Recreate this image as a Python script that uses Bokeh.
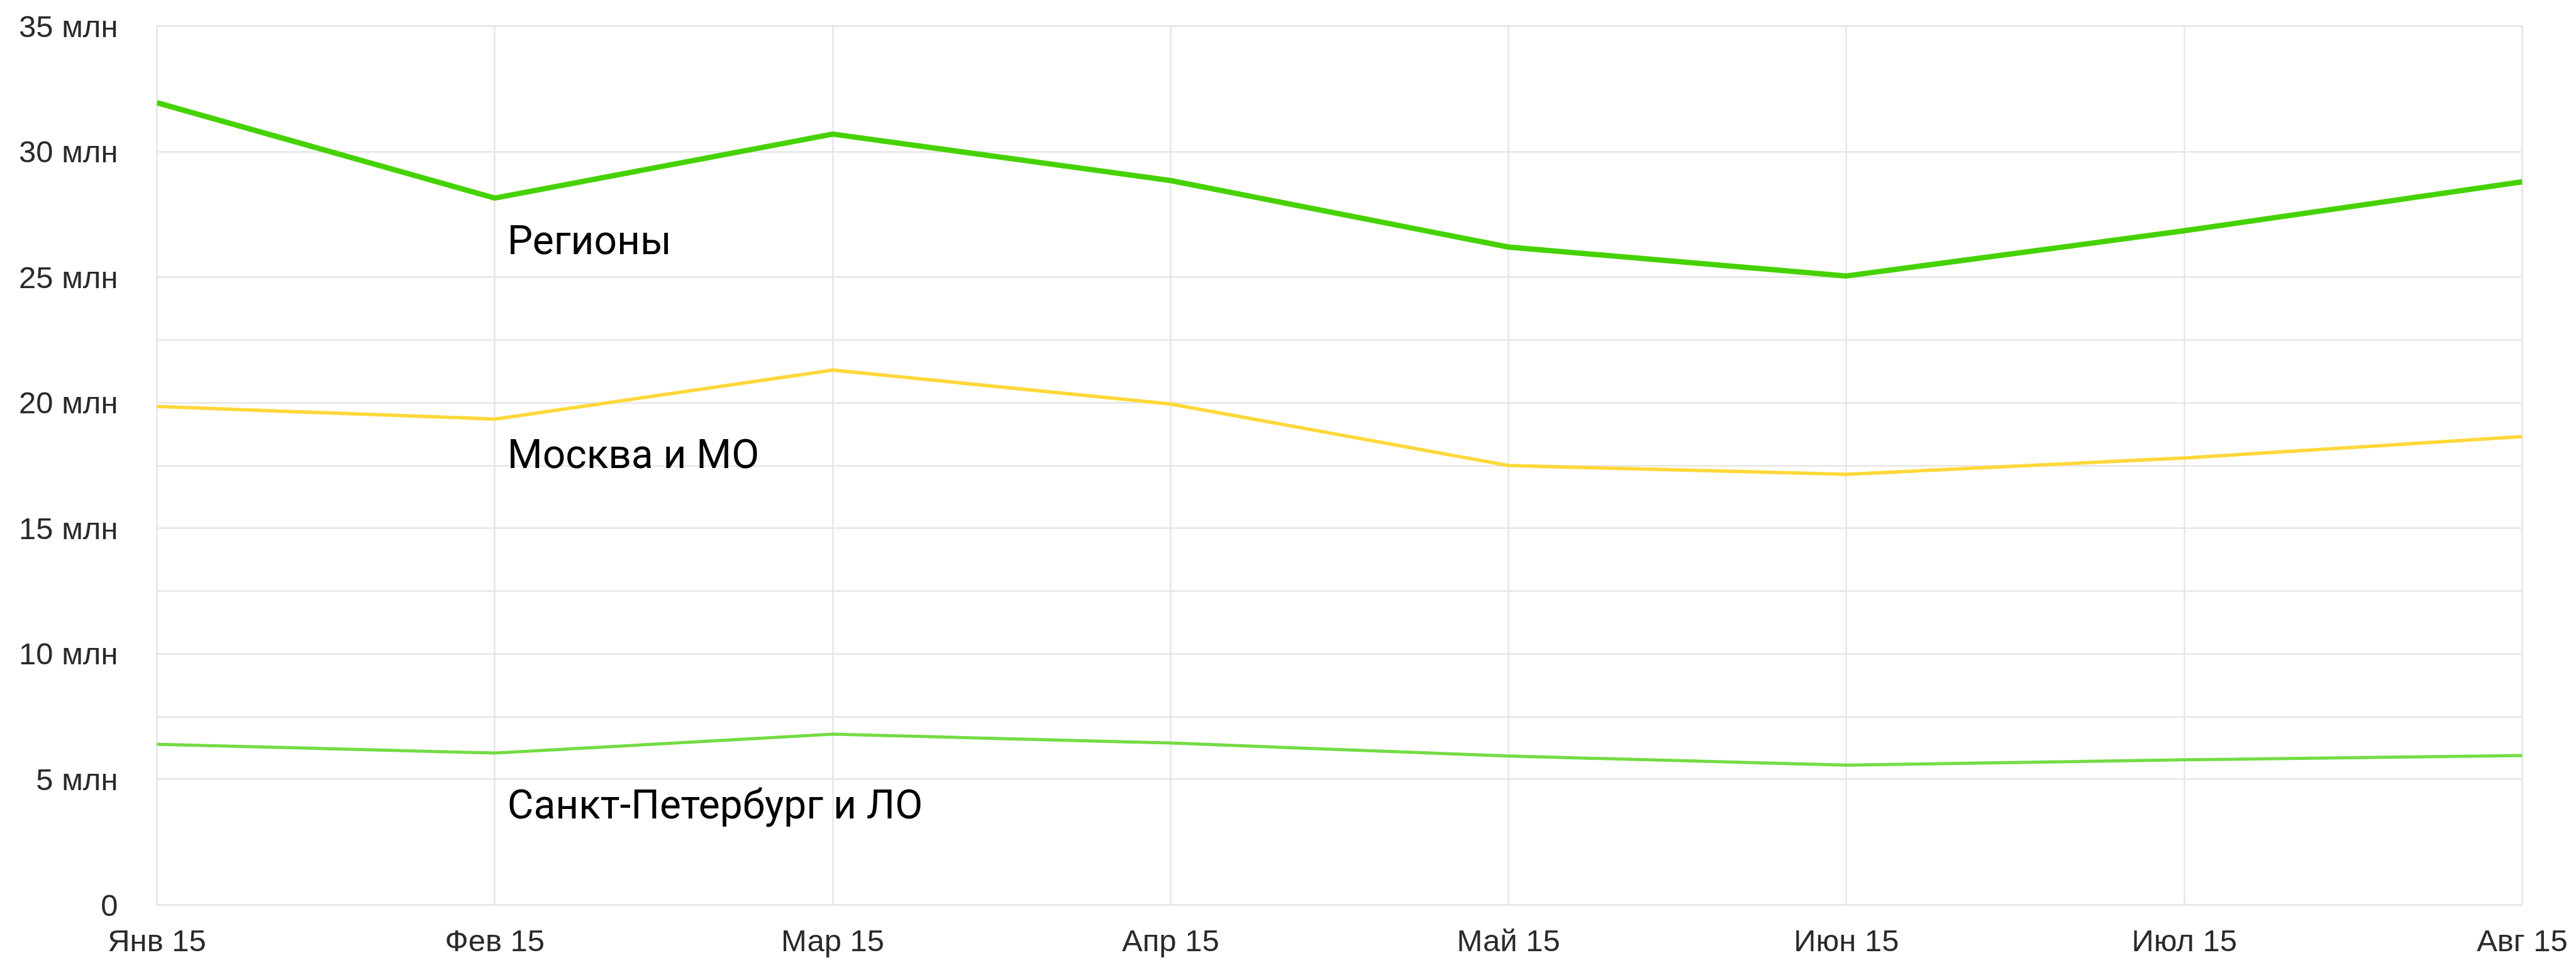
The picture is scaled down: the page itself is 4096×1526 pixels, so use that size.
from bokeh.plotting import figure
from bokeh.models import Range1d, FixedTicker, Label
from bokeh.embed import file_html
from bokeh.resources import INLINE

# ---- data (values in millions) ----
months = ["Янв 15", "Фев 15", "Мар 15", "Апр 15", "Май 15", "Июн 15", "Июл 15", "Авг 15"]
regions = [31.95, 28.15, 30.7, 28.85, 26.2, 25.05, 26.85, 28.8]
moscow = [19.85, 19.35, 21.3, 19.95, 17.5, 17.15, 17.8, 18.65]
spb = [6.4, 6.05, 6.8, 6.45, 5.93, 5.57, 5.78, 5.95]
y_ticks = [0, 5, 10, 15, 20, 25, 30, 35]
y_tick_labels = ["0", "5 млн", "10 млн", "15 млн", "20 млн", "25 млн", "30 млн", "35 млн"]
minor_grid = [7.5, 12.5, 17.5, 22.5]
series_names = ["Регионы", "Москва и МО", "Санкт-Петербург и ЛО"]
label_y = [26.45, 17.95, 3.98]

x = list(range(len(months)))

p = figure(width=4090, height=1524, output_backend="svg", toolbar_location=None,
           x_range=Range1d(0, len(months) - 1), y_range=Range1d(0, 35),
           min_border_left=249, min_border_right=80, min_border_top=41, min_border_bottom=85)

p.background_fill_color = "white"
p.border_fill_color = "white"
p.outline_line_color = "#e4e4e4"
p.outline_line_width = 2.5

# grids
p.xgrid.ticker = FixedTicker(ticks=x)
p.ygrid.ticker = FixedTicker(ticks=sorted(y_ticks + minor_grid))
for g in (p.xgrid, p.ygrid):
    g.grid_line_color = "#e6e6e6"
    g.grid_line_width = 2.5

# axes
p.xaxis.ticker = FixedTicker(ticks=x)
p.xaxis.major_label_overrides = {i: m for i, m in enumerate(months)}
p.yaxis.ticker = FixedTicker(ticks=y_ticks)
p.yaxis.major_label_overrides = {t: l for t, l in zip(y_ticks, y_tick_labels)}
for ax in (p.xaxis, p.yaxis):
    ax.axis_line_color = None
    ax.major_tick_line_color = None
    ax.minor_tick_line_color = None
    ax.major_tick_out = 0
    ax.major_label_text_font = "Liberation Sans"
    ax.major_label_text_font_size = "49px"
    ax.major_label_text_color = "#2a2a2a"
p.xaxis.major_label_standoff = 29
p.yaxis.major_label_standoff = 62

# lines
p.line(x, spb, line_color="#74dc45", line_width=5, line_join="round")
p.line(x, moscow, line_color="#ffd83a", line_width=5.5, line_join="round")
p.line(x, regions, line_color="#46d200", line_width=8.5, line_join="round")

# series labels
for name, yv in zip(series_names, label_y):
    p.add_layout(Label(x=1, y=yv, x_offset=20, text=name, text_font="Roboto",
                       text_font_size="64px", text_color="#000000",
                       text_baseline="alphabetic", text_align="left"))

open("out.html", "w").write(file_html(p, INLINE))
